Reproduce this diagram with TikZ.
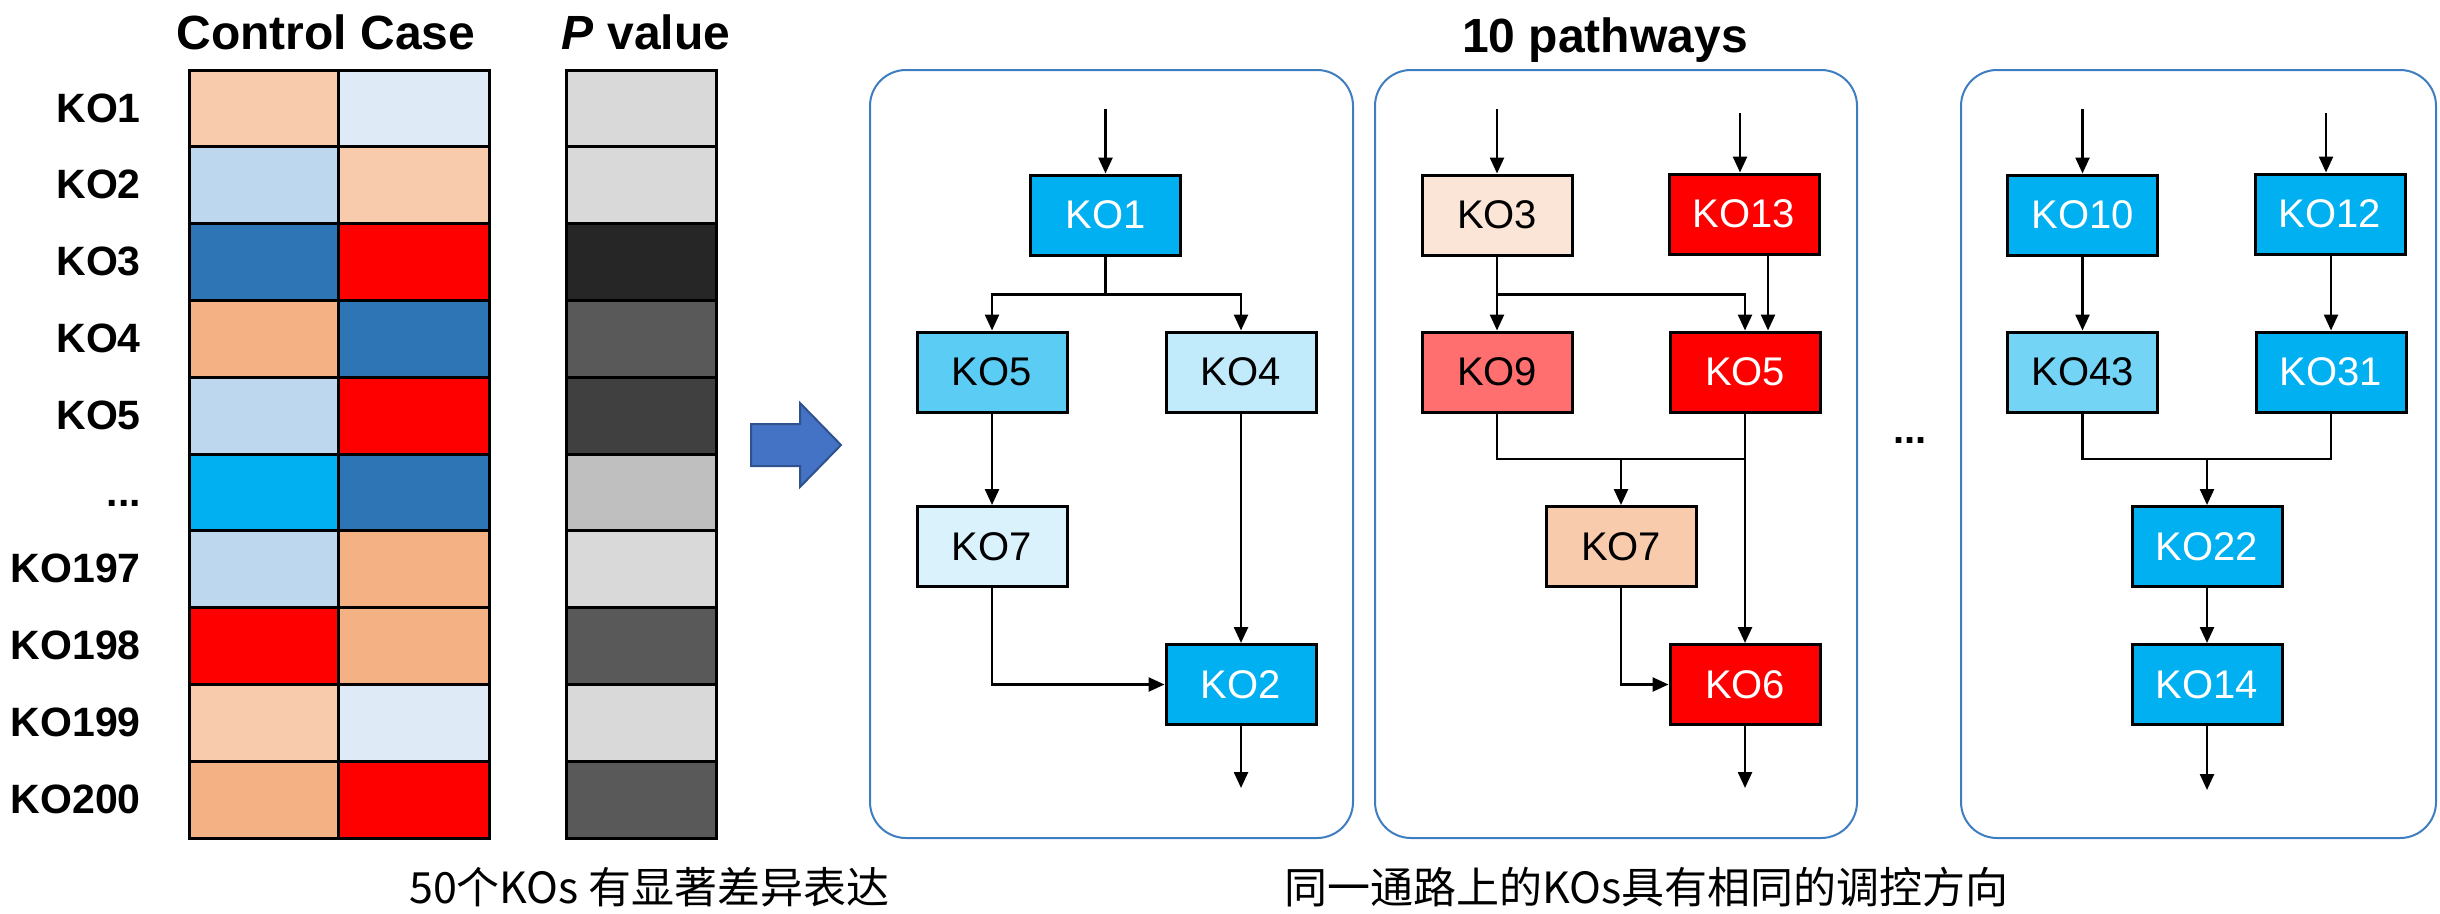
\documentclass[tikz,border=0pt]{standalone}
\usepackage{fontspec}
\setmainfont{Liberation Sans}
\newfontfamily\cjk{Noto Sans CJK SC}
\usetikzlibrary{arrows.meta}

% label for the elided rows (kept out of the \foreach list, where ... means a range)
\newcommand\rowdots{.{}.{}.}

% heatmap palette
\definecolor{peachL}{HTML}{F8CBAD}
\definecolor{peachM}{HTML}{F4B183}
\definecolor{peachVL}{HTML}{FBE5D6}
\definecolor{blueVL}{HTML}{DEEBF7}
\definecolor{blueL}{HTML}{BDD7EE}
\definecolor{blueD}{HTML}{2E75B6}
\definecolor{hred}{HTML}{FF0000}
\definecolor{salmon}{HTML}{FF6F6F}
% pathway node palette
\definecolor{cyanD}{HTML}{00B0F0}
\definecolor{cyanM}{HTML}{5BCDF5}
\definecolor{cyanL}{HTML}{74D4F6}
\definecolor{cyanVL}{HTML}{C1EAFB}
\definecolor{cyanXL}{HTML}{DAF2FC}
% p-value greys
\definecolor{g1}{HTML}{D9D9D9}
\definecolor{g2}{HTML}{262626}
\definecolor{g3}{HTML}{595959}
\definecolor{g4}{HTML}{404040}
\definecolor{g5}{HTML}{BFBFBF}
% frames and block arrow
\definecolor{panel}{HTML}{3D7DC0}
\definecolor{arrowfill}{HTML}{4472C4}
\definecolor{arrowline}{HTML}{2F528F}

\tikzset{
  ko/.style={draw=black, line width=3pt, minimum width=150pt, minimum height=80pt,
             inner sep=0pt, font=\fontsize{40}{48}\selectfont, text=black},
  kow/.style={ko, text=white},
  wire/.style={line width=2.5pt, draw=black},
  arr/.style={wire, -{Triangle[length=16pt,width=14pt]}},
  lab/.style={font=\bfseries\fontsize{41}{48}\selectfont, anchor=base east, inner sep=0pt},
  ttl/.style={font=\bfseries\fontsize{48}{58}\selectfont, anchor=base, inner sep=0pt},
  capt/.style={font=\cjk\fontsize{43}{52}\selectfont, anchor=base west, inner sep=0pt},
  panelbox/.style={draw=panel, line width=2pt, rounded corners=36pt},
  cell/.style={draw=black, line width=3pt},
}

\begin{document}
\begin{tikzpicture}[x=1pt, y=-1pt]
\useasboundingbox (0,0) rectangle (2440,913);

% ---------- heatmap ----------
\foreach \lab/\ca/\cb/\cp [count=\i from 0] in {
    KO1/peachL/blueVL/g1, KO2/blueL/peachL/g1, KO3/blueD/hred/g2,
    KO4/peachM/blueD/g3, KO5/blueL/hred/g4, \rowdots/cyanD/blueD/g5,
    KO197/blueL/peachM/g1, KO198/hred/peachM/g3, KO199/peachL/blueVL/g1,
    KO200/peachM/hred/g3}{
  \pgfmathsetmacro\yt{70+76.8*\i}
  \pgfmathsetmacro\yb{\yt+76.8}
  \draw[cell, fill=\ca] (189,\yt) rectangle (338,\yb);
  \draw[cell, fill=\cb] (338,\yt) rectangle (489,\yb);
  \draw[cell, fill=\cp] (566,\yt) rectangle (716,\yb);
  \node[lab] (row\i) at (141,{\yt+52}) {\lab};
}

\node[ttl] (tcc) at (326,49) {Control Case};
\node[ttl] (tpv) at (646,49) {\textit{P} value};
\node[ttl] (tpw) at (1605,52) {10 pathways};

% block arrow
\draw[fill=arrowfill, draw=arrowline, line width=2pt]
  (751,424) -- (800,424) -- (800,403) -- (841,445) -- (800,487) -- (800,466) -- (751,466) -- cycle;

% ---------- pathway frames ----------
\draw[panelbox] (870,70) rectangle (1353,838);
\draw[panelbox] (1375,70) rectangle (1857,838);
\draw[panelbox] (1961,70) rectangle (2436,838);

\node[font=\bfseries\fontsize{40}{48}\selectfont, anchor=base, inner sep=0pt] (more) at (1910,443) {\rowdots};

% ---------- pathway 1 ----------
\node[kow, fill=cyanD]  (a1) at (1105.5,215) {KO1};
\node[ko,  fill=cyanM]  (a5) at (992,372)    {KO5};
\node[ko,  fill=cyanVL] (a4) at (1241,372)   {KO4};
\node[ko,  fill=cyanXL] (a7) at (992,546.5)  {KO7};
\node[kow, fill=cyanD]  (a2) at (1241,684.5) {KO2};
\coordinate (a1in) at (1105.5,109);
\coordinate (a2out) at (1241,788);

\draw[arr] (a1in) -- (a1.north);
\draw[arr] (a1.south) -- ++(0,38) -| (a5.north);
\draw[arr] (a1.south) ++(0,38) -| (a4.north);
\draw[arr] (a5.south) -- (a7.north);
\draw[arr] (a4.south) -- (a2.north);
\draw[arr] (a7.south) |- (a2.west);
\draw[arr] (a2.south) -- (a2out);

% ---------- pathway 2 ----------
\node[ko,  fill=peachVL] (b3)  at (1497,215)   {KO3};
\node[kow, fill=hred]    (b13) at (1744,214)   {KO13};
\node[ko,  fill=salmon]  (b9)  at (1497,372)   {KO9};
\node[kow, fill=hred]    (b5)  at (1745,372)   {KO5};
\node[ko,  fill=peachL]  (b7)  at (1621,546.5) {KO7};
\node[kow, fill=hred]    (b6)  at (1745,684.5) {KO6};
\coordinate (b3in)  at (1497,109);
\coordinate (b13in) at (1740,113);
\coordinate (bj)    at (1621,459);
\coordinate (b6out) at (1745,788);

\draw[arr] (b3in) -- (b3.north);
\draw[arr] (b13in) -- ([xshift=-4pt]b13.north);
\draw[arr] (b3.south) -- (b9.north);
\draw[arr] (b3.south) ++(0,38) -| (b5.north);
\draw[arr] ([xshift=24pt]b13.south) -- ([xshift=23pt]b5.north);
\draw[wire] (b9.south) |- (bj) -| (b5.south);
\draw[arr] (bj) -- (b7.north);
\draw[arr] (b5.south) -- (b6.north);
\draw[arr] (b7.south) |- (b6.west);
\draw[arr] (b6.south) -- (b6out);

% ---------- pathway 3 ----------
\node[kow, fill=cyanD] (c10) at (2082.5,215)  {KO10};
\node[kow, fill=cyanD] (c12) at (2330,214)    {KO12};
\node[ko,  fill=cyanL] (c43) at (2082.5,372)  {KO43};
\node[kow, fill=cyanD] (c31) at (2331,372)    {KO31};
\node[kow, fill=cyanD] (c22) at (2207,546.5)  {KO22};
\node[kow, fill=cyanD] (c14) at (2207,684.5)  {KO14};
\coordinate (c10in)  at (2082.5,109);
\coordinate (c12in)  at (2326,113);
\coordinate (cj)     at (2207,459);
\coordinate (c14out) at (2207,790);

\draw[arr] (c10in) -- (c10.north);
\draw[arr] (c12in) -- ([xshift=-4pt]c12.north);
\draw[arr] (c10.south) -- (c43.north);
\draw[arr] (c31.north |- c12.south) -- (c31.north);
\draw[wire] (c43.south) |- (cj) -| (c31.south);
\draw[arr] (cj) -- (c22.north);
\draw[arr] (c22.south) -- (c14.north);
\draw[arr] (c14.south) -- (c14out);

% ---------- captions ----------
\node[capt] (cap1) at (409,903)  {50个KOs 有显著差异表达};
\node[capt] (cap2) at (1284,903) {同一通路上的KOs具有相同的调控方向};

\end{tikzpicture}
\end{document}
